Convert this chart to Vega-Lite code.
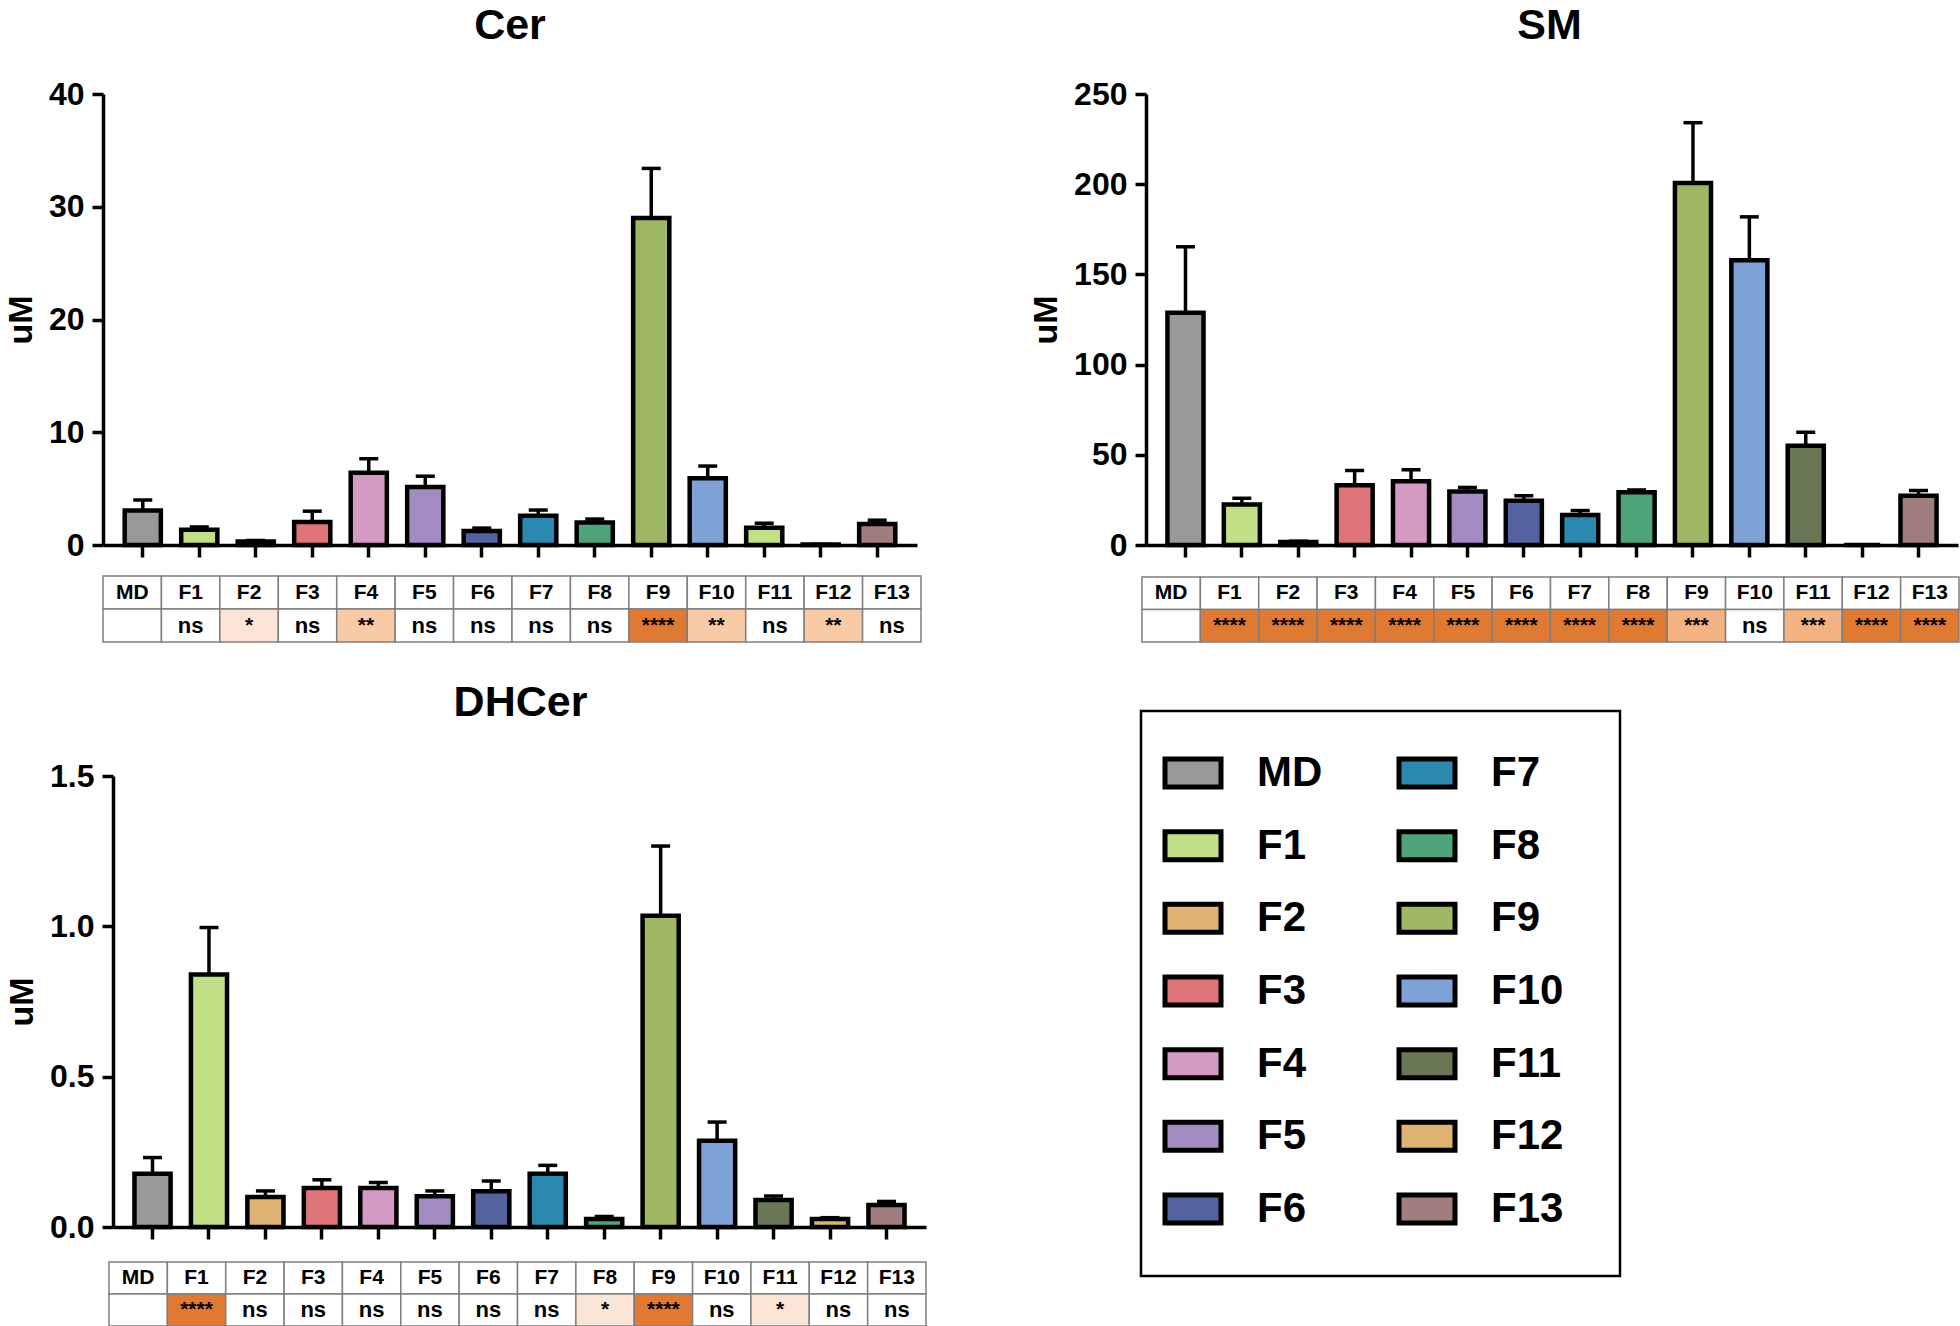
{
  "$schema": "https://vega.github.io/schema/vega-lite/v6.json",
  "background": "white",
  "padding": {"left": 4, "top": 5, "right": 0, "bottom": 0},
  "config": {
    "font": "Liberation Sans",
    "view": {"stroke": null},
    "axis": {"labelFont": "Liberation Sans", "titleFont": "Liberation Sans", "labelColor": "black", "titleColor": "black", "domainColor": "black", "tickColor": "black", "grid": false},
    "text": {"font": "Liberation Sans"},
    "title": {"font": "Liberation Sans", "color": "black"}
  },
  "columns": 2,
  "bounds": "flush",
  "align": "each",
  "spacing": {"row": 166, "column": 215},
  "concat": [
    {
      "title": {"text": "Cer", "fontSize": 43, "fontWeight": "bold", "offset": -4, "baseline": "alphabetic", "anchor": "middle", "frame": "group"},
      "width": 814,
      "height": 451,
      "data": {"values": [
        {"fraction": "MD", "mean": 3.05, "upper": 4.0, "sig": ""},
        {"fraction": "F1", "mean": 1.35, "upper": 1.6, "sig": "ns"},
        {"fraction": "F2", "mean": 0.3, "upper": 0.4, "sig": "*"},
        {"fraction": "F3", "mean": 2.05, "upper": 3.0, "sig": "ns"},
        {"fraction": "F4", "mean": 6.4, "upper": 7.65, "sig": "**"},
        {"fraction": "F5", "mean": 5.15, "upper": 6.1, "sig": "ns"},
        {"fraction": "F6", "mean": 1.25, "upper": 1.5, "sig": "ns"},
        {"fraction": "F7", "mean": 2.6, "upper": 3.1, "sig": "ns"},
        {"fraction": "F8", "mean": 2.0, "upper": 2.3, "sig": "ns"},
        {"fraction": "F9", "mean": 29.0, "upper": 33.4, "sig": "****"},
        {"fraction": "F10", "mean": 5.92, "upper": 7.0, "sig": "**"},
        {"fraction": "F11", "mean": 1.54, "upper": 1.93, "sig": "ns"},
        {"fraction": "F12", "mean": 0.05, "upper": 0.05, "sig": "**"},
        {"fraction": "F13", "mean": 1.87, "upper": 2.2, "sig": "ns"}
      ]},
      "layer": [
        {
          "encoding": {
            "x": {"field": "fraction", "type": "nominal", "sort": null,
              "scale": {"type": "band", "domain": ["MD","F1","F2","F3","F4","F5","F6","F7","F8","F9","F10","F11","F12","F13"], "range": [0, 814], "paddingInner": 0.36, "paddingOuter": 0.384},
              "axis": {"title": null, "labels": false, "ticks": true, "tickSize": 12, "tickWidth": 3.5, "domainWidth": 3.5}}
          },
          "layer": [
            {"mark": {"type": "bar", "stroke": "black", "strokeWidth": 4.5},
             "encoding": {
               "y": {"field": "mean", "type": "quantitative", "scale": {"domain": [0, 40], "nice": false},
                 "axis": {"title": "uM", "values": [0, 10, 20, 30, 40], "tickSize": 11, "tickWidth": 3.5, "domainWidth": 3.5, "labelFontSize": 32, "labelFontWeight": "bold", "labelPadding": 8, "titleFontSize": 34, "titleFontWeight": "bold", "titlePadding": 10}},
               "fill": {"field": "fraction", "type": "nominal",
                 "scale": {"domain": ["MD","F1","F2","F3","F4","F5","F6","F7","F8","F9","F10","F11","F12","F13"], "range": ["#999999","#c1df86","#deb272","#e07579","#d49ac4","#a48bc2","#5462a0","#2b89b0","#4fa37a","#a0b866","#7ea1d6","#c1df86","#deb272","#a07d7e"]},
                 "legend": null}
             }},
            {"mark": {"type": "rule", "strokeWidth": 3.5, "color": "black"},
             "encoding": {"y": {"field": "mean", "type": "quantitative"}, "y2": {"field": "upper"}}},
            {"mark": {"type": "tick", "size": 19, "thickness": 3.5, "color": "black", "opacity": 1},
             "encoding": {"y": {"field": "upper", "type": "quantitative"}}}
          ]
        },
        {
          "transform": [{"fold": ["fraction", "sig"], "as": ["key", "value"]}],
          "encoding": {
            "x": {"field": "fraction", "type": "nominal", "sort": null,
              "scale": {"type": "band", "domain": ["MD","F1","F2","F3","F4","F5","F6","F7","F8","F9","F10","F11","F12","F13"], "range": [0, 818], "paddingInner": 0, "paddingOuter": 0}, "axis": null},
            "y": {"field": "key", "type": "nominal",
              "scale": {"type": "band", "domain": ["fraction", "sig"], "range": [482, 548], "paddingInner": 0, "paddingOuter": 0}, "axis": null}
          },
          "layer": [
            {"mark": {"type": "rect", "stroke": "#7f7f7f", "strokeWidth": 1.5},
             "encoding": {"fill": {"condition": {"test": "datum.key === 'fraction'", "value": "white"}, "field": "value", "type": "nominal",
               "scale": {"domain": ["****","***","**","*","ns",""], "range": ["#e07a32","#f4b282","#f8caa6","#fbe5d6","#ffffff","#ffffff"]}, "legend": null}}},
            {"mark": {"type": "text", "fontWeight": "bold", "color": "black", "baseline": "middle"},
             "encoding": {"text": {"field": "value"}, "size": {"condition": {"test": "datum.value === 'ns'", "value": 22}, "value": 21}}}
          ]
        }
      ],
      "resolve": {"scale": {"x": "independent", "y": "independent", "fill": "independent"}}
    },
    {
      "title": {"text": "SM", "fontSize": 43, "fontWeight": "bold", "offset": -4, "baseline": "alphabetic", "anchor": "middle", "frame": "group"},
      "width": 817,
      "height": 451,
      "data": {"values": [
        {"fraction": "MD", "mean": 128.7, "upper": 165.3, "sig": ""},
        {"fraction": "F1", "mean": 22.4, "upper": 25.9, "sig": "****"},
        {"fraction": "F2", "mean": 1.6, "upper": 2.1, "sig": "****"},
        {"fraction": "F3", "mean": 33.1, "upper": 41.3, "sig": "****"},
        {"fraction": "F4", "mean": 35.4, "upper": 41.7, "sig": "****"},
        {"fraction": "F5", "mean": 29.6, "upper": 31.9, "sig": "****"},
        {"fraction": "F6", "mean": 24.5, "upper": 27.3, "sig": "****"},
        {"fraction": "F7", "mean": 16.6, "upper": 19.1, "sig": "****"},
        {"fraction": "F8", "mean": 29.2, "upper": 30.5, "sig": "****"},
        {"fraction": "F9", "mean": 200.6, "upper": 234.1, "sig": "***"},
        {"fraction": "F10", "mean": 157.9, "upper": 181.9, "sig": "ns"},
        {"fraction": "F11", "mean": 55.0, "upper": 62.5, "sig": "***"},
        {"fraction": "F12", "mean": 0, "upper": 0, "sig": "****"},
        {"fraction": "F13", "mean": 27.3, "upper": 30.2, "sig": "****"}
      ]},
      "layer": [
        {
          "encoding": {
            "x": {"field": "fraction", "type": "nominal", "sort": null,
              "scale": {"type": "band", "domain": ["MD","F1","F2","F3","F4","F5","F6","F7","F8","F9","F10","F11","F12","F13"], "range": [5, 817], "paddingInner": 0.36, "paddingOuter": 0.38},
              "axis": {"title": null, "labels": false, "ticks": true, "tickSize": 12, "tickWidth": 3.5, "domainWidth": 3.5}}
          },
          "layer": [
            {"mark": {"type": "bar", "stroke": "black", "strokeWidth": 4.5},
             "encoding": {
               "y": {"field": "mean", "type": "quantitative", "scale": {"domain": [0, 250], "nice": false},
                 "axis": {"title": "uM", "offset": -5, "values": [0, 50, 100, 150, 200, 250], "tickSize": 11, "tickWidth": 3.5, "domainWidth": 3.5, "labelFontSize": 32, "labelFontWeight": "bold", "labelPadding": 8, "titleFontSize": 34, "titleFontWeight": "bold", "titlePadding": 10}},
               "fill": {"field": "fraction", "type": "nominal",
                 "scale": {"domain": ["MD","F1","F2","F3","F4","F5","F6","F7","F8","F9","F10","F11","F12","F13"], "range": ["#999999","#c1df86","#deb272","#e07579","#d49ac4","#a48bc2","#5462a0","#2b89b0","#4fa37a","#a0b866","#7ea1d6","#6a7756","#deb272","#a07d7e"]},
                 "legend": null}
             }},
            {"mark": {"type": "rule", "strokeWidth": 3.5, "color": "black"},
             "encoding": {"y": {"field": "mean", "type": "quantitative"}, "y2": {"field": "upper"}}},
            {"mark": {"type": "tick", "size": 19, "thickness": 3.5, "color": "black", "opacity": 1},
             "encoding": {"y": {"field": "upper", "type": "quantitative"}}}
          ]
        },
        {
          "transform": [{"fold": ["fraction", "sig"], "as": ["key", "value"]}],
          "encoding": {
            "x": {"field": "fraction", "type": "nominal", "sort": null,
              "scale": {"type": "band", "domain": ["MD","F1","F2","F3","F4","F5","F6","F7","F8","F9","F10","F11","F12","F13"], "range": [1, 818], "paddingInner": 0, "paddingOuter": 0}, "axis": null},
            "y": {"field": "key", "type": "nominal",
              "scale": {"type": "band", "domain": ["fraction", "sig"], "range": [483, 548], "paddingInner": 0, "paddingOuter": 0}, "axis": null}
          },
          "layer": [
            {"mark": {"type": "rect", "stroke": "#7f7f7f", "strokeWidth": 1.5},
             "encoding": {"fill": {"condition": {"test": "datum.key === 'fraction'", "value": "white"}, "field": "value", "type": "nominal",
               "scale": {"domain": ["****","***","**","*","ns",""], "range": ["#e07a32","#f4b282","#f8caa6","#fbe5d6","#ffffff","#ffffff"]}, "legend": null}}},
            {"mark": {"type": "text", "fontWeight": "bold", "color": "black", "baseline": "middle"},
             "encoding": {"text": {"field": "value"}, "size": {"condition": {"test": "datum.value === 'ns'", "value": 22}, "value": 21}}}
          ]
        }
      ],
      "resolve": {"scale": {"x": "independent", "y": "independent", "fill": "independent"}}
    },
    {
      "title": {"text": "DHCer", "fontSize": 43, "fontWeight": "bold", "offset": -48, "dx": 6, "baseline": "alphabetic", "anchor": "middle", "frame": "group"},
      "width": 823,
      "height": 516,
      "data": {"values": [
        {"fraction": "MD", "mean": 0.177, "upper": 0.231, "sig": ""},
        {"fraction": "F1", "mean": 0.84, "upper": 0.996, "sig": "****"},
        {"fraction": "F2", "mean": 0.1, "upper": 0.12, "sig": "ns"},
        {"fraction": "F3", "mean": 0.13, "upper": 0.157, "sig": "ns"},
        {"fraction": "F4", "mean": 0.13, "upper": 0.148, "sig": "ns"},
        {"fraction": "F5", "mean": 0.102, "upper": 0.12, "sig": "ns"},
        {"fraction": "F6", "mean": 0.119, "upper": 0.153, "sig": "ns"},
        {"fraction": "F7", "mean": 0.177, "upper": 0.205, "sig": "ns"},
        {"fraction": "F8", "mean": 0.027, "upper": 0.035, "sig": "*"},
        {"fraction": "F9", "mean": 1.035, "upper": 1.267, "sig": "****"},
        {"fraction": "F10", "mean": 0.287, "upper": 0.349, "sig": "ns"},
        {"fraction": "F11", "mean": 0.09, "upper": 0.103, "sig": "*"},
        {"fraction": "F12", "mean": 0.027, "upper": 0.031, "sig": "ns"},
        {"fraction": "F13", "mean": 0.073, "upper": 0.085, "sig": "ns"}
      ]},
      "layer": [
        {
          "encoding": {
            "x": {"field": "fraction", "type": "nominal", "sort": null,
              "scale": {"type": "band", "domain": ["MD","F1","F2","F3","F4","F5","F6","F7","F8","F9","F10","F11","F12","F13"], "range": [10, 823], "paddingInner": 0.36, "paddingOuter": 0.38},
              "axis": {"title": null, "labels": false, "ticks": true, "tickSize": 12, "tickWidth": 3.5, "domainWidth": 3.5}}
          },
          "layer": [
            {"mark": {"type": "bar", "stroke": "black", "strokeWidth": 4.5},
             "encoding": {
               "y": {"field": "mean", "type": "quantitative", "scale": {"domain": [0, 1.5], "nice": false, "range": [516, 65]},
                 "axis": {"title": "uM", "offset": -10, "values": [0, 0.5, 1, 1.5], "format": ".1f", "tickSize": 11, "tickWidth": 3.5, "domainWidth": 3.5, "labelFontSize": 32, "labelFontWeight": "bold", "labelPadding": 8, "titleFontSize": 34, "titleFontWeight": "bold", "titlePadding": 10}},
               "fill": {"field": "fraction", "type": "nominal",
                 "scale": {"domain": ["MD","F1","F2","F3","F4","F5","F6","F7","F8","F9","F10","F11","F12","F13"], "range": ["#999999","#c1df86","#deb272","#e07579","#d49ac4","#a48bc2","#5462a0","#2b89b0","#4fa37a","#a0b866","#7ea1d6","#6a7756","#deb272","#a07d7e"]},
                 "legend": null}
             }},
            {"mark": {"type": "rule", "strokeWidth": 3.5, "color": "black"},
             "encoding": {"y": {"field": "mean", "type": "quantitative"}, "y2": {"field": "upper"}}},
            {"mark": {"type": "tick", "size": 19, "thickness": 3.5, "color": "black", "opacity": 1},
             "encoding": {"y": {"field": "upper", "type": "quantitative"}}}
          ]
        },
        {
          "transform": [{"fold": ["fraction", "sig"], "as": ["key", "value"]}],
          "encoding": {
            "x": {"field": "fraction", "type": "nominal", "sort": null,
              "scale": {"type": "band", "domain": ["MD","F1","F2","F3","F4","F5","F6","F7","F8","F9","F10","F11","F12","F13"], "range": [6, 823], "paddingInner": 0, "paddingOuter": 0}, "axis": null},
            "y": {"field": "key", "type": "nominal",
              "scale": {"type": "band", "domain": ["fraction", "sig"], "range": [551, 615], "paddingInner": 0, "paddingOuter": 0}, "axis": null}
          },
          "layer": [
            {"mark": {"type": "rect", "stroke": "#7f7f7f", "strokeWidth": 1.5},
             "encoding": {"fill": {"condition": {"test": "datum.key === 'fraction'", "value": "white"}, "field": "value", "type": "nominal",
               "scale": {"domain": ["****","***","**","*","ns",""], "range": ["#e07a32","#f4b282","#f8caa6","#fbe5d6","#ffffff","#ffffff"]}, "legend": null}}},
            {"mark": {"type": "text", "fontWeight": "bold", "color": "black", "baseline": "middle"},
             "encoding": {"text": {"field": "value"}, "size": {"condition": {"test": "datum.value === 'ns'", "value": 22}, "value": 21}}}
          ]
        }
      ],
      "resolve": {"scale": {"x": "independent", "y": "independent", "fill": "independent"}}
    },
    {
      "width": 479,
      "height": 565,
      "view": {"stroke": "black", "strokeWidth": 2.5},
      "data": {"values": [
        {"fraction": "MD"}, {"fraction": "F1"}, {"fraction": "F2"}, {"fraction": "F3"}, {"fraction": "F4"}, {"fraction": "F5"}, {"fraction": "F6"},
        {"fraction": "F7"}, {"fraction": "F8"}, {"fraction": "F9"}, {"fraction": "F10"}, {"fraction": "F11"}, {"fraction": "F12"}, {"fraction": "F13"}
      ]},
      "transform": [
        {"window": [{"op": "row_number", "as": "idx"}]},
        {"calculate": "datum.idx <= 7 ? 'c1' : 'c2'", "as": "col"},
        {"calculate": "(datum.idx - 1) % 7", "as": "row"}
      ],
      "encoding": {
        "x": {"field": "col", "type": "nominal", "scale": {"type": "point", "domain": ["c1", "c2"], "range": [52, 286], "padding": 0}, "axis": null},
        "y": {"field": "row", "type": "ordinal", "scale": {"type": "point", "domain": [0, 1, 2, 3, 4, 5, 6], "range": [62, 498], "padding": 0}, "axis": null}
      },
      "layer": [
        {"mark": {"type": "point", "shape": "M-1,-0.5H1V0.5H-1Z", "size": 3136, "filled": true, "opacity": 1, "stroke": "black", "strokeWidth": 5},
         "encoding": {"fill": {"field": "fraction", "type": "nominal",
           "scale": {"domain": ["MD","F1","F2","F3","F4","F5","F6","F7","F8","F9","F10","F11","F12","F13"], "range": ["#999999","#c1df86","#deb272","#e07579","#d49ac4","#a48bc2","#5462a0","#2b89b0","#4fa37a","#a0b866","#7ea1d6","#6a7756","#deb272","#a07d7e"]},
           "legend": null}}},
        {"mark": {"type": "text", "align": "left", "dx": 64, "fontSize": 42, "fontWeight": "bold", "baseline": "middle", "color": "black"},
         "encoding": {"text": {"field": "fraction"}}}
      ]
    }
  ]
}
